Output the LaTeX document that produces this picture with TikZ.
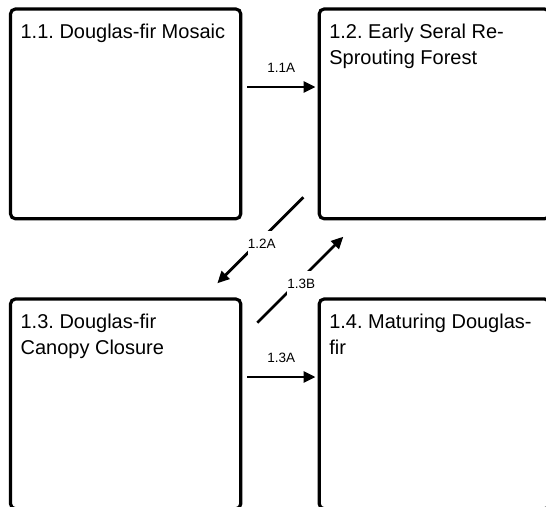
\documentclass[tikz,border=0pt]{standalone}
\usepackage{fontspec}
\setmainfont{Liberation Sans}
\frenchspacing
\usetikzlibrary{arrows.meta}
\begin{document}
\begin{tikzpicture}[x=1pt,y=-1pt,
  statebox/.style={draw=black, line width=3.2pt, rounded corners=5pt,
    minimum width=230.3pt, minimum height=209.8pt, inner sep=0pt},
  title/.style={anchor=base west, align=left, inner sep=0pt,
    font=\fontsize{20}{26.5}\selectfont},
  flow/.style={line width=2.8pt, -{Triangle[length=12pt,width=11pt]}},
  tlabel/.style={font=\fontsize{13.5}{15}\selectfont, inner sep=0pt},
  gaplabel/.style={tlabel, fill=white, minimum height=26.6pt, inner xsep=0pt}
]
\fill[white] (0,0) rectangle (546,506);
\useasboundingbox (0,0) rectangle (546,506);

% state boxes
\node[statebox] (b11) at (125.65,113.9) {};
\node[statebox] (b12) at (434.35,113.9) {};
\node[statebox] (b13) at (125.65,403.9) {};
\node[statebox] (b14) at (434.35,403.9) {};

% state titles (base anchor sits on the last line)
\node[title] (t11) at ([shift={(11.5,31)}]b11.north west) {1.1. Douglas-fir Mosaic};
\node[title] (t12) at ([shift={(11.5,57.5)}]b12.north west) {1.2. Early Seral Re-\\Sprouting Forest};
\node[title] (t13) at ([shift={(11.5,57.5)}]b13.north west) {1.3. Douglas-fir\\Canopy Closure};
\node[title] (t14) at ([shift={(11.5,57.5)}]b14.north west) {1.4. Maturing Douglas-\\fir};

% transition end points
\coordinate (a11s) at (247,87);
\coordinate (a11e) at (315.5,87);
\coordinate (a13s) at (247,377);
\coordinate (a13e) at (315.5,377);
\coordinate (a12s) at (303.3,197.3);
\coordinate (a12e) at (217.3,283.3);
\coordinate (b13s) at (257.3,322.7);
\coordinate (b13e) at (343.3,236.7);

% transitions
\draw[flow] (a11s) -- node[tlabel, yshift=19.5pt] (l11a) {1.1A} (a11e);
\draw[flow] (a13s) -- node[tlabel, yshift=19.5pt] (l13a) {1.3A} (a13e);
\draw[flow] (a12s) -- (a12e);
\draw[flow] (b13s) -- (b13e);
\node[gaplabel] (l12a) at (261.7,244) {1.2A};
\node[gaplabel] (l13b) at (301.2,284.2) {1.3B};
\end{tikzpicture}
\end{document}
